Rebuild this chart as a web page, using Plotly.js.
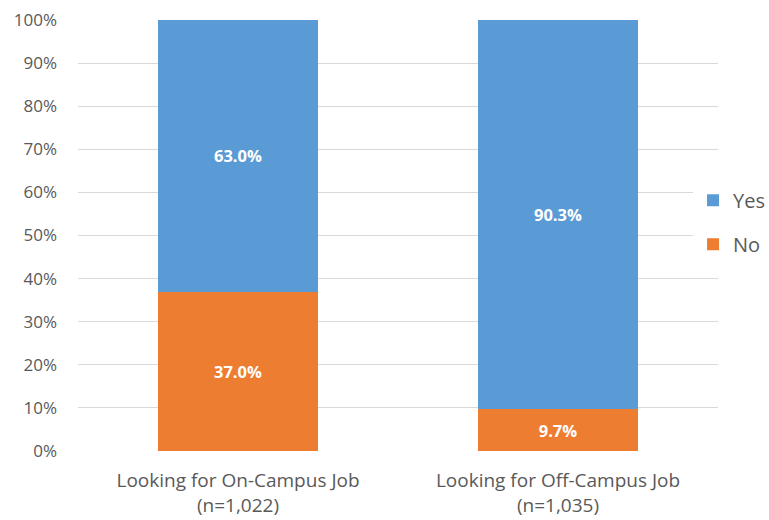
<!DOCTYPE html>
<html>
<head>
<meta charset="utf-8">
<script src="https://cdn.plot.ly/plotly-3.0.1.min.js"></script>
<style>html,body{margin:0;padding:0;background:#fff;}#chart{width:769px;height:520px;}</style>
</head>
<body>
<div id="chart"></div>
<script>
const categories = ["Looking for On-Campus Job<br>(n=1,022)", "Looking for Off-Campus Job<br>(n=1,035)"];
const noValues = [37.0, 9.7];
const yesValues = [63.0, 90.3];
const seriesNames = ["Yes", "No"];
const yTickVals = [0, 10, 20, 30, 40, 50, 60, 70, 80, 90, 100];
const yTickLabels = ["0%", "10%", "20%", "30%", "40%", "50%", "60%", "70%", "80%", "90%", "100%"];

const FONT = "Open Sans, Liberation Sans, sans-serif";
const labelFont = {family: FONT, size: 16.5, color: "#ffffff", weight: "bold"};

const traces = [
  {
    type: "bar", name: seriesNames[1], x: categories, y: noValues,
    marker: {color: "#ED7D31"},
    text: noValues.map(v => v.toFixed(1) + "%"), textposition: "inside",
    insidetextanchor: "middle", textfont: labelFont, hoverinfo: "none",
    legendgroup: "no", legendrank: 2
  },
  {
    type: "bar", name: seriesNames[0], x: categories, y: yesValues,
    marker: {color: "#5B9BD5"},
    text: yesValues.map(v => v.toFixed(1) + "%"), textposition: "inside",
    insidetextanchor: "middle", textfont: labelFont, hoverinfo: "none",
    legendgroup: "yes", legendrank: 1
  }
];

const layout = {
  width: 769, height: 520,
  margin: {l: 78, r: 51, t: 20, b: 69, pad: 0, autoexpand: false},
  paper_bgcolor: "#ffffff", plot_bgcolor: "#ffffff",
  barmode: "stack", bargap: 0.5,
  font: {family: FONT, color: "#595959"},
  showlegend: true,
  legend: {
    x: 0.961, xanchor: "left", y: 0.531, yanchor: "middle",
    bgcolor: "#ffffff", font: {family: FONT, size: 20, color: "#595959"},
    traceorder: "grouped", tracegroupgap: 15, itemwidth: 30
  },
  xaxis: {
    showgrid: false, zeroline: false, showline: false, ticks: "",
    ticklabelstandoff: 16,
    tickfont: {family: FONT, size: 19, color: "#595959"}
  },
  yaxis: {
    range: [0, 100], tickvals: yTickVals, ticktext: yTickLabels,
    showgrid: true, gridcolor: "#D9D9D9", gridwidth: 1,
    zeroline: false, showline: false, ticks: "", ticklabelstandoff: 20,
    tickfont: {family: FONT, size: 17, color: "#595959"}
  }
};

Plotly.newPlot("chart", traces, layout, {displayModeBar: false, staticPlot: true});
</script>
</body>
</html>
